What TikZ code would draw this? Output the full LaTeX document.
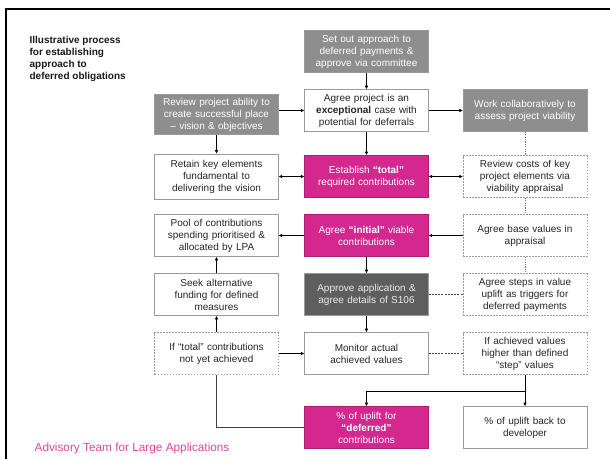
\documentclass[tikz,border=0pt]{standalone}
\usepackage{fontspec}
\setmainfont{Liberation Sans}
\usetikzlibrary{arrows.meta}
\definecolor{boxGray}{HTML}{8E8E8E}
\definecolor{boxDark}{HTML}{5E5E5E}
\definecolor{boxPink}{HTML}{D4288F}
\definecolor{lineGray}{HTML}{9A9A9A}
\tikzset{%
  >={Latex[width=3.5pt,length=3.5pt]},
  % Specifications for style of nodes:
       base/.style = {rectangle, draw=lineGray, line width=0.6pt,
                      minimum width=121pt, minimum height=42pt,
                      text width=117pt, align=center,
                      font=\fontsize{10pt}{12pt}\selectfont},
   plainbox/.style = {base, fill=white, text=black!85},
    graybox/.style = {base, fill=boxGray, text=white},
    darkbox/.style = {base, fill=boxDark, text=white!92!black},
    pinkbox/.style = {base, fill=boxPink, draw=boxPink!80!black, text=white},
  dottedbox/.style = {base, fill=white, text=black!85, dash pattern=on 1.6pt off 1.4pt},
  % Specifications for style of lines:
    dotline/.style = {draw=black!55, line width=0.8pt, dash pattern=on 1.2pt off 1.2pt},
   dashline/.style = {draw=black!75, line width=0.6pt, dash pattern=on 2pt off 1.2pt},
   backline/.style = {draw=black!75, line width=1pt},
}
\begin{document}
\begin{tikzpicture}[x=1pt, y=-1pt, node distance=59pt,
    every path/.style={line width=0.6pt}]
  \useasboundingbox (0,0) rectangle (610,459);
  % frame along top and left
  \draw[black, line width=2.2pt] (5,9) -- (610,9);
  \draw[black, line width=2.2pt] (6,8) -- (6,459);

  \node (heading) [anchor=north west, align=left, text=black!90,
      font=\bfseries\fontsize{10pt}{12pt}\selectfont] at (26,33)
      {Illustrative process\\for establishing\\approach to\\deferred obligations};
  \node (footer) [anchor=west, text=boxPink!85!white,
      font=\fontsize{11.8pt}{14pt}\selectfont] at (31,448)
      {Advisory Team for Large Applications};

  % Specification of nodes (position, etc.)
  % middle column
  \node (setOut)          [graybox] at (366.5,51.5)               {Set out approach to\\deferred payments \&\\approve via committee};
  \node (agreeProject)    [plainbox, below of=setOut]              {Agree project is an\\\textbf{exceptional} case with\\potential for deferrals};
  \node (establishTotal)  [pinkbox, below of=agreeProject, yshift=-7pt] {Establish \textbf{“total”}\\required contributions};
  \node (agreeInitial)    [pinkbox, below of=establishTotal]       {Agree \textbf{“initial”} viable\\contributions};
  \node (approveApp)      [darkbox, below of=agreeInitial]         {Approve application \&\\agree details of S106};
  \node (monitorValues)   [plainbox, below of=approveApp]          {Monitor actual\\achieved values};
  \node (upliftDeferred)  [pinkbox, below of=monitorValues, yshift=-15pt] {\% of uplift for\\\textbf{“deferred”}\\contributions};

  % left column
  \node (reviewAbility)   [graybox, minimum height=36pt, left of=agreeProject, xshift=-91pt, yshift=-4pt]
                                                                   {Review project ability to\\create successful place\\-- vision \& objectives};
  \node (retainElements)  [plainbox, minimum height=45pt, left of=establishTotal, xshift=-91pt]
                                                                   {Retain key elements\\fundamental to\\delivering the vision};
  \node (poolContrib)     [plainbox, left of=agreeInitial, xshift=-91pt]   {Pool of contributions\\spending prioritised \&\\allocated by LPA};
  \node (seekFunding)     [plainbox, left of=approveApp, xshift=-91pt]     {Seek alternative\\funding for defined\\measures};
  \node (ifTotal)         [dottedbox, left of=monitorValues, xshift=-91pt] {If “total” contributions\\not yet achieved};

  % right column
  \node (workCollab)      [graybox, right of=agreeProject, xshift=99.5pt]   {Work collaboratively to\\assess project viability};
  \node (reviewCosts)     [dottedbox, right of=establishTotal, xshift=99.5pt] {Review costs of key\\project elements via\\viability appraisal};
  \node (agreeBase)       [dottedbox, right of=agreeInitial, xshift=99.5pt]  {Agree base values in\\appraisal};
  \node (agreeSteps)      [dottedbox, right of=approveApp, xshift=99.5pt]    {Agree steps in value\\uplift as triggers for\\deferred payments};
  \node (ifAchieved)      [dottedbox, right of=monitorValues, xshift=99.5pt] {If achieved values\\higher than defined\\“step” values};
  \node (upliftBack)      [plainbox, right of=upliftDeferred, xshift=99.5pt] {\% of uplift back to\\developer};

  \coordinate (split) at ([yshift=-16pt]ifAchieved.south);

  % Specification of lines between nodes specified above
  \draw[->]                            (setOut) -- (agreeProject);
  \draw[->]                      (agreeProject) -- (workCollab);
  \draw[->] (reviewAbility.east |- agreeProject) -- (agreeProject.west);
  \draw[->]                     (reviewAbility) -- (retainElements);
  \draw[->]                      (agreeProject) -- (establishTotal);
  \draw[<->]                   (retainElements) -- (establishTotal);
  \draw[<->]                   (establishTotal) -- (reviewCosts);
  \draw[dotline]                   (workCollab) -- (reviewCosts);
  \draw[dotline]                  (reviewCosts) -- (agreeBase);
  \draw[dotline]                    (agreeBase) -- (agreeSteps);
  \draw[->]                         (agreeBase) -- (agreeInitial);
  \draw[->]                      (agreeInitial) -- (poolContrib);
  \draw[->]                      (agreeInitial) -- (approveApp);
  \draw[dashline]                  (approveApp) -- (agreeSteps);
  \draw[->]                        (approveApp) -- (monitorValues);
  \draw[dashline]               (monitorValues) -- (ifAchieved);
  \draw[->]                           (ifTotal) -- (monitorValues);
  \draw[->]                           (ifTotal) -- (seekFunding);
  \draw[->]                       (seekFunding) -- (poolContrib);
  \draw[backline]              (upliftDeferred) -| (ifTotal);
  \draw                        (ifAchieved) -- (split);
  \draw[->]                             (split) -- (upliftBack);
  \draw[->]                             (split) -| (upliftDeferred);
\end{tikzpicture}
\end{document}
